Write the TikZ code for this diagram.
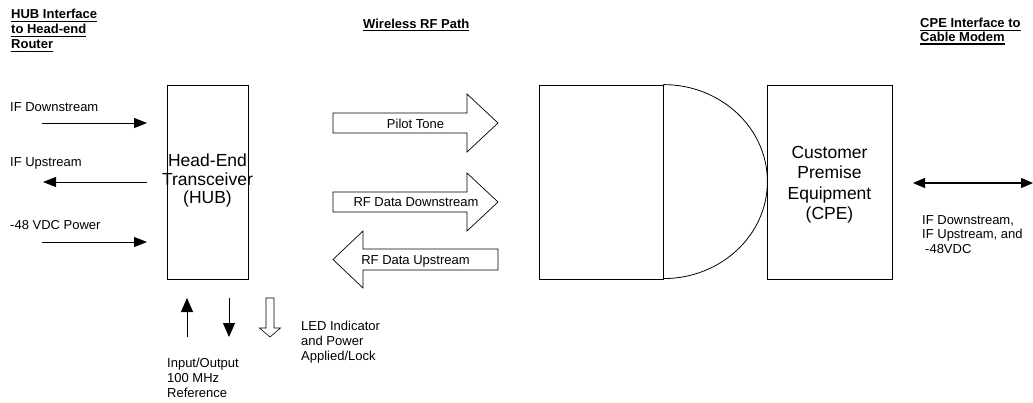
\documentclass[tikz,border=0pt]{standalone}
\usepackage{fontspec}
\setmainfont{Liberation Sans}
\usetikzlibrary{arrows.meta}
\newcommand\smallfs{\fontsize{13}{15}\selectfont}
\newcommand\boxfs{\fontsize{17.5}{18.5}\selectfont}
\newcommand\boxfsb{\fontsize{17.5}{20.5}\selectfont}
\newcommand\ulh[1]{\setbox0\hbox{#1}\rlap{\rule[-3.1pt]{\wd0}{1.3pt}}\box0}
\tikzset{
  x=1pt, y=-1pt,
  lbl/.style={font=\smallfs, inner sep=0pt, align=left},
  hdr/.style={font=\smallfs\bfseries, inner sep=0pt, align=left},
  unit/.style={draw, line width=0.8pt, inner sep=0pt},
  unittext/.style={inner sep=0pt, align=center},
  sig/.style={line width=1pt, -{Triangle[length=13pt,width=10pt]}},
  sigb/.style={line width=1pt, -{Triangle[length=14pt,width=12pt]}},
  dsig/.style={line width=1.1pt, {Triangle[length=12pt,width=10pt]}-{Triangle[length=12pt,width=10pt]}},
  bigarrow/.style={draw, line width=0.7pt, fill=white, line join=miter},
}
\begin{document}
\begin{tikzpicture}
\useasboundingbox (0,0) rectangle (1033,402);
\fill[white] (0,0) rectangle (1033,402);

% headers
\node[hdr, anchor=north west] (hubhdr) at (11,9.3) {\ulh{HUB Interface}\\\ulh{to Head-end}\\\ulh{Router}};
\node[hdr, anchor=base west] (rfhdr) at (363,28.3) {\ulh{Wireless RF Path}};
\node[hdr, anchor=north west, font=\fontsize{13}{13.5}\selectfont\bfseries] (cpehdr) at (920,18.3) {\ulh{CPE Interface to}\\\ulh{Cable Modem}};

% units
\node[unit, minimum width=81pt, minimum height=194pt] (hub) at (207.5,182) {};
\node[unittext, font=\boxfs, anchor=north] (hubtext) at (207.5,154) {Head-End\\Transceiver\\(HUB)};
\node[unit, minimum width=124pt, minimum height=194pt] (dish) at (601,182) {};
\draw[line width=0.8pt] (dish.north east) arc[start angle=90, end angle=-90, x radius=104pt, y radius=97pt];
\node[unit, minimum width=125pt, minimum height=194pt] (cpe) at (829.5,182) {};
\node[unittext, font=\boxfsb, anchor=north] (cpetext) at (829.5,146) {Customer\\Premise\\Equipment\\(CPE)};

% left interface signals
\node[lbl, anchor=base west] (ifdl) at (10,111) {IF Downstream};
\node[lbl, anchor=base west] (iful) at (10,166) {IF Upstream};
\node[lbl, anchor=base west] (pwrl) at (10,229) {-48 VDC Power};
\coordinate (ifd0) at (42,123);  \coordinate (ifd1) at (147,123);
\coordinate (ifu0) at (147,182); \coordinate (ifu1) at (43,182);
\coordinate (pwr0) at (42,242);  \coordinate (pwr1) at (147,242);
\draw[sig] (ifd0) -- (ifd1);
\draw[sig] (ifu0) -- (ifu1);
\draw[sig] (pwr0) -- (pwr1);

% RF path arrows
\draw[bigarrow] (333,113) -- (467,113) -- (467,94) -- (498,123) -- (467,152) -- (467,133) -- (333,133) -- cycle;
\node[lbl, anchor=base] (pilot) at (415.5,128.3) {Pilot Tone};
\draw[bigarrow] (333,192) -- (467,192) -- (467,173) -- (498,202) -- (467,231) -- (467,212) -- (333,212) -- cycle;
\node[lbl, anchor=base] (rfdn) at (416,206.5) {RF Data Downstream};
\draw[bigarrow] (498,249) -- (363,249) -- (363,231) -- (333,259.5) -- (363,288) -- (363,270) -- (498,270) -- cycle;
\node[lbl, anchor=base] (rfup) at (415.5,264.3) {RF Data Upstream};

% bottom signals
\coordinate (ref0) at (187,337); \coordinate (ref1) at (187,298);
\coordinate (ref2) at (229,298); \coordinate (ref3) at (229,337);
\draw[sigb] (ref0) -- (ref1);
\draw[sigb] (ref2) -- (ref3);
\draw[bigarrow, line width=0.6pt] (266,298) -- (274,298) -- (274,328) -- (280.5,328) -- (270,337) -- (259.5,328) -- (266,328) -- cycle;
\node[lbl, anchor=north west] (refl) at (167,358.3) {Input/Output\\100 MHz\\Reference};
\node[lbl, anchor=north west] (ledl) at (301,321.3) {LED Indicator\\and Power\\Applied/Lock};

% CPE interface
\coordinate (cm0) at (913,183); \coordinate (cm1) at (1033,183);
\draw[dsig] (cm0) -- (cm1);
\node[lbl, anchor=north west, font=\fontsize{13}{14.5}\selectfont] (cml) at (922,215.3) {IF Downstream,\\IF Upstream, and\\\hspace{3pt}-48VDC};
\end{tikzpicture}
\end{document}
